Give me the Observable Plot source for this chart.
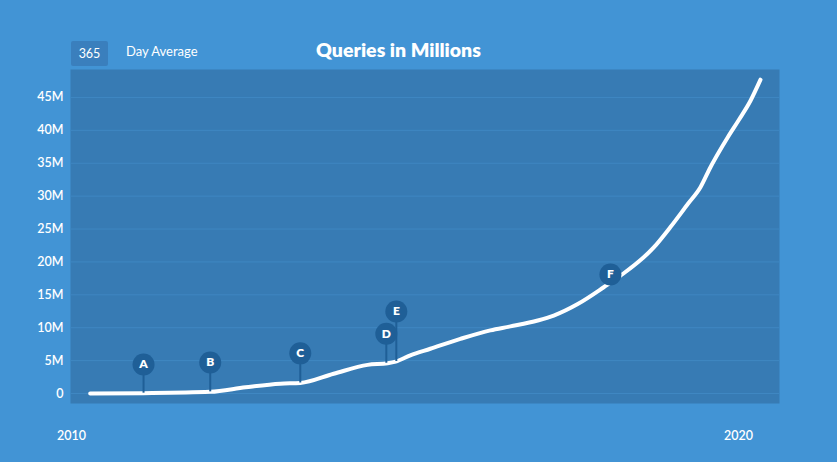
<!DOCTYPE html>
<html>
<head>
<meta charset="utf-8">
<script src="https://cdn.jsdelivr.net/npm/d3@7"></script>
<script src="https://cdn.jsdelivr.net/npm/@observablehq/plot@0.6"></script>
<style>
  html, body { margin: 0; padding: 0; background: #4294d5; }
  #wrap { position: relative; width: 837px; height: 462px; overflow: hidden; font-family: Lato, "Open Sans", sans-serif; color: #fff; }
  #header { position: relative; height: 69px; }
  #box { position: absolute; left: 71px; top: 41px; width: 37px; height: 25px; background: #3a7fbd; border-radius: 2px; font-size: 12.5px; line-height: 25px; text-align: center; }
  #sub { position: absolute; left: 126px; top: 43px; font-size: 13px; }
  #title { position: absolute; left: 0; width: 797px; text-align: center; top: 38px; font-size: 19.5px; font-weight: 800; }
  #chart svg { display: block; }
</style>
</head>
<body>
<div id="wrap">
  <div id="header">
    <div id="box">365</div>
    <div id="sub">Day Average</div>
    <div id="title">Queries in Millions</div>
  </div>
  <div id="chart"></div>
</div>
<script>
// Line series: decimal year and queries (millions), 365-day average
const years = [2010.28, 2011.08, 2012.08, 2012.61, 2013.13, 2013.43, 2013.93, 2014.44, 2014.74, 2014.86, 2015.08, 2015.38, 2015.83, 2016.28, 2016.58, 2016.99, 2017.23, 2017.59, 2017.98, 2018.23, 2018.73, 2018.98, 2019.24, 2019.43, 2019.58, 2019.69, 2019.84, 2020.0, 2020.18, 2020.33];
const queries = [0.0, 0.05, 0.25, 0.95, 1.5, 1.6, 3.0, 4.35, 4.6, 4.85, 5.8, 6.8, 8.3, 9.6, 10.2, 11.1, 11.85, 13.6, 16.15, 17.9, 22.2, 25.3, 28.8, 31.35, 34.4, 36.4, 38.95, 41.5, 44.5, 47.7];

// Annotations
const noteLabels = ["A", "B", "C", "D", "E", "F"];
const noteYears = [2011.08, 2012.08, 2013.43, 2014.72, 2014.87, 2018.08];
const noteBase = [0.05, 0.25, 1.6, 4.6, 4.86, 18.1];
const noteTop = [4.4, 4.7, 6.1, 9.07, 12.46, 18.1];

const yTicks = [0, 5, 10, 15, 20, 25, 30, 35, 40, 45];
const xTicks = [2010, 2020];

const series = years.map((y, i) => ({year: y, value: queries[i]}));
const notes = noteLabels.map((l, i) => ({label: l, year: noteYears[i], base: noteBase[i], top: noteTop[i]}));

const chart = Plot.plot({
  width: 837,
  height: 393,
  marginLeft: 70,
  marginRight: 58,
  marginTop: 0,
  marginBottom: 59,
  style: {background: "transparent", color: "#fff", fontFamily: "Lato, 'Open Sans', sans-serif"},
  x: {domain: [2009.985, 2020.615], label: null},
  y: {domain: [-1.52, 49.25], label: null},
  marks: [
    Plot.frame({fill: "#377bb4", stroke: null}),
    Plot.ruleY(yTicks, {stroke: "#3f87c2", strokeWidth: 1}),
    Plot.axisY({ticks: yTicks, tickSize: 0, tickPadding: 7, fontSize: 12.5, fontWeight: 600, tickFormat: d => d === 0 ? "0" : d + "M", label: null}),
    Plot.axisX({ticks: xTicks, tickSize: 0, tickPadding: 28, fontSize: 12.5, fontWeight: 600, tickFormat: d => String(d), label: null}),
    Plot.line(series, {x: "year", y: "value", stroke: "#fff", strokeWidth: 4, curve: "monotone-x"}),
    Plot.ruleX(notes, {x: "year", y1: "base", y2: "top", stroke: "#1f5f97", strokeWidth: 2}),
    Plot.dot(notes, {x: "year", y: "top", r: 11, fill: "#1f5f97", stroke: null}),
    Plot.text(notes, {x: "year", y: "top", text: "label", fill: "#fff", fontSize: 12, fontWeight: 800})
  ]
});
document.getElementById("chart").appendChild(chart);
</script>
</body>
</html>
